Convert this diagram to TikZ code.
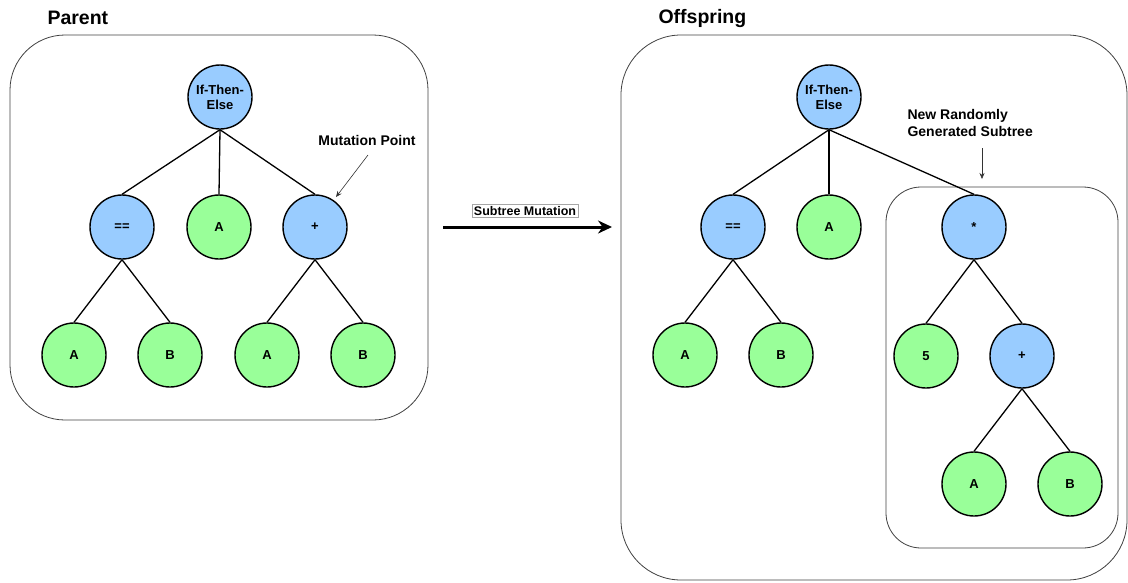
\documentclass[tikz,border=0pt]{standalone}
\usepackage{fontspec}
\setmainfont{Liberation Sans}
\usepackage{xcolor}
\usepackage{tikz}
\usetikzlibrary{arrows.meta}
\usetikzlibrary{positioning}
\definecolor{opblue}{HTML}{99CCFF}
\definecolor{leafgreen}{HTML}{99FF99}

\begin{document}
\begin{tikzpicture}[x=1pt, y=-1pt, op style/.style={circle, draw, line width=1.4pt, fill=opblue, minimum size=64pt, inner sep=0pt, align=center, font=\bfseries\fontsize{13}{15}\selectfont}, leaf style/.style={op style, fill=leafgreen}, group style/.style={draw=black!75, line width=0.8pt, rounded corners=55pt}, edge style/.style={line width=1.3pt}, title style/.style={font=\bfseries\fontsize{19.5}{22}\selectfont, anchor=west}, note style/.style={font=\bfseries\fontsize{14}{17}\selectfont, align=left}]
	\useasboundingbox (0,0) rectangle (1128,582);
	% boxes
	\draw[group style] (10,35) rectangle (428,420);
	\draw[group style, rounded corners=60pt] (621,35) rectangle (1127,580);
	\draw[group style, rounded corners=35pt] (886,187) rectangle (1118,548);
	\node[title style] (TP) at (44,18) {Parent};
	\node[title style] (TO) at (655,18) {Offspring};
	% parent tree
	\node[op style] (P0) at (220,97) {If-Then-\\Else};
	\node[op style] (P1) at (122,227) {==};
	\node[leaf style] (P2) at (219,227) {A};
	\node[op style] (P3) at (315,227) {+};
	\node[leaf style] (P11) at (74,355) {A};
	\node[leaf style] (P12) at (170,355) {B};
	\node[leaf style] (P31) at (267,355) {A};
	\node[leaf style] (P32) at (363,355) {B};
	\foreach \a/\b in {P0/P1, P0/P2, P0/P3, P1/P11, P1/P12, P3/P31, P3/P32}
		\draw[edge style] (\a.south) -- (\b.north);
	\node[note style] (MP) at (367,140) {Mutation Point};
	\coordinate (MPtip) at (336,197);
	\draw[-{Stealth[length=6pt,width=5pt]}, black!80, line width=0.6pt] (368,155) -- (MPtip);
	% mutation arrow
	\node[draw=black!35, fill=white, inner sep=2pt, font=\bfseries\fontsize{12.5}{14}\selectfont] (SM) at (525,211) {Subtree Mutation};
	\coordinate (AL) at (443,227);
	\coordinate (AR) at (612,227);
	\draw[-{Stealth[length=14pt,width=13pt]}, line width=3pt] (AL) -- (AR);
	% offspring tree
	\node[op style] (O0) at (829,97) {If-Then-\\Else};
	\node[op style] (O1) at (733,227) {==};
	\node[leaf style] (O2) at (829,227) {A};
	\node[op style] (O3) at (974,227) {*};
	\node[leaf style] (O11) at (685,355) {A};
	\node[leaf style] (O12) at (781,355) {B};
	\node[leaf style] (O31) at (926,356) {5};
	\node[op style] (O32) at (1022,356) {+};
	\node[leaf style] (O321) at (974,484) {A};
	\node[leaf style] (O322) at (1070,484) {B};
	\foreach \a/\b in {O0/O1, O0/O2, O0/O3, O1/O11, O1/O12, O3/O31, O3/O32, O32/O321, O32/O322}
		\draw[edge style] (\a.south) -- (\b.north);
	\node[note style, anchor=north west] (NS) at (904,106) {New Randomly\\Generated Subtree};
	\coordinate (NStip) at (982,179);
	\draw[-{Stealth[length=6pt,width=5pt]}, black!80, line width=0.6pt] (982,148) -- (NStip);
\end{tikzpicture}
\end{document}
